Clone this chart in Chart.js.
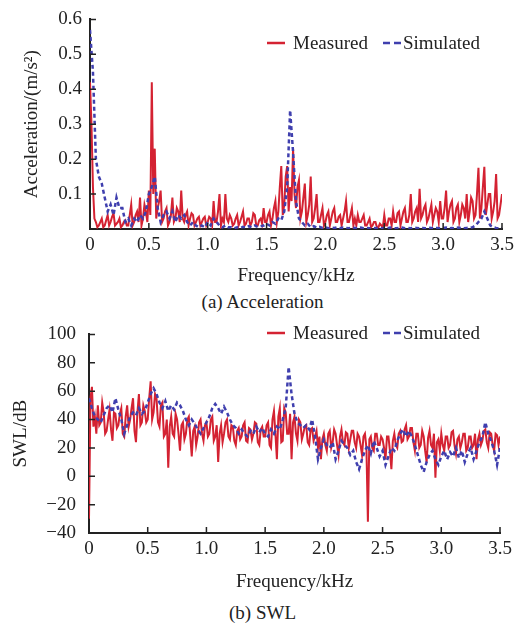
<!DOCTYPE html>
<html>
<head>
<meta charset="utf-8">
<script src="https://cdn.jsdelivr.net/npm/chart.js@4.4.1/dist/chart.umd.min.js"></script>
<style>
    body { margin: 0; background: #fff; width: 527px; height: 627px; position: relative; overflow: hidden; }
    .box { position: absolute; left: 0; }
    .caption { position: absolute; left: 0; width: 525px; text-align: center; font: 19px "Liberation Serif", "Times New Roman", serif; color: #222; }
</style>
</head>
<body>
<div class="box" style="top:0"><canvas id="accChart" width="527" height="288"></canvas></div>
<div class="caption" style="top:291px">(a) Acceleration</div>
<div class="box" style="top:310px"><canvas id="swlChart" width="527" height="284"></canvas></div>
<div class="caption" style="top:602px">(b) SWL</div>
<script>
// frequency grid of the measured spectra, kHz
var freqFine = [
    0, 0.0125, 0.025, 0.0375, 0.05, 0.0625, 0.075, 0.0875, 0.1, 0.1125, 0.125, 0.1375, 0.15, 0.1625, 0.175, 0.1875, 0.2, 0.2125, 0.225, 0.2375,
    0.25, 0.2625, 0.275, 0.2875, 0.3, 0.3125, 0.325, 0.3375, 0.35, 0.3625, 0.375, 0.3875, 0.4, 0.4125, 0.425, 0.4375, 0.45, 0.4625, 0.475, 0.4875,
    0.5, 0.5125, 0.525, 0.5375, 0.55, 0.5625, 0.575, 0.5875, 0.6, 0.6125, 0.625, 0.6375, 0.65, 0.6625, 0.675, 0.6875, 0.7, 0.7125, 0.725, 0.7375,
    0.75, 0.7625, 0.775, 0.7875, 0.8, 0.8125, 0.825, 0.8375, 0.85, 0.8625, 0.875, 0.8875, 0.9, 0.9125, 0.925, 0.9375, 0.95, 0.9625, 0.975, 0.9875,
    1.0, 1.0125, 1.025, 1.0375, 1.05, 1.0625, 1.075, 1.0875, 1.1, 1.1125, 1.125, 1.1375, 1.15, 1.1625, 1.175, 1.1875, 1.2, 1.2125, 1.225, 1.2375,
    1.25, 1.2625, 1.275, 1.2875, 1.3, 1.3125, 1.325, 1.3375, 1.35, 1.3625, 1.375, 1.3875, 1.4, 1.4125, 1.425, 1.4375, 1.45, 1.4625, 1.475, 1.4875,
    1.5, 1.5125, 1.525, 1.5375, 1.55, 1.5625, 1.575, 1.5875, 1.6, 1.6125, 1.625, 1.6375, 1.65, 1.6625, 1.675, 1.6875, 1.7, 1.7125, 1.725, 1.7375,
    1.75, 1.7625, 1.775, 1.7875, 1.8, 1.8125, 1.825, 1.8375, 1.85, 1.8625, 1.875, 1.8875, 1.9, 1.9125, 1.925, 1.9375, 1.95, 1.9625, 1.975, 1.9875,
    2.0, 2.0125, 2.025, 2.0375, 2.05, 2.0625, 2.075, 2.0875, 2.1, 2.1125, 2.125, 2.1375, 2.15, 2.1625, 2.175, 2.1875, 2.2, 2.2125, 2.225, 2.2375,
    2.25, 2.2625, 2.275, 2.2875, 2.3, 2.3125, 2.325, 2.3375, 2.35, 2.3625, 2.375, 2.3875, 2.4, 2.4125, 2.425, 2.4375, 2.45, 2.4625, 2.475, 2.4875,
    2.5, 2.5125, 2.525, 2.5375, 2.55, 2.5625, 2.575, 2.5875, 2.6, 2.6125, 2.625, 2.6375, 2.65, 2.6625, 2.675, 2.6875, 2.7, 2.7125, 2.725, 2.7375,
    2.75, 2.7625, 2.775, 2.7875, 2.8, 2.8125, 2.825, 2.8375, 2.85, 2.8625, 2.875, 2.8875, 2.9, 2.9125, 2.925, 2.9375, 2.95, 2.9625, 2.975, 2.9875,
    3.0, 3.0125, 3.025, 3.0375, 3.05, 3.0625, 3.075, 3.0875, 3.1, 3.1125, 3.125, 3.1375, 3.15, 3.1625, 3.175, 3.1875, 3.2, 3.2125, 3.225, 3.2375,
    3.25, 3.2625, 3.275, 3.2875, 3.3, 3.3125, 3.325, 3.3375, 3.35, 3.3625, 3.375, 3.3875, 3.4, 3.4125, 3.425, 3.4375, 3.45, 3.4625, 3.475, 3.4875,
    3.5
];

// frequency grid of the simulated spectra, kHz
var freqCoarse = [
    0, 0.025, 0.05, 0.075, 0.1, 0.125, 0.15, 0.175, 0.2, 0.225,
    0.25, 0.275, 0.3, 0.325, 0.35, 0.375, 0.4, 0.425, 0.45, 0.475,
    0.5, 0.525, 0.55, 0.575, 0.6, 0.625, 0.65, 0.675, 0.7, 0.725,
    0.75, 0.775, 0.8, 0.825, 0.85, 0.875, 0.9, 0.925, 0.95, 0.975,
    1.0, 1.025, 1.05, 1.075, 1.1, 1.125, 1.15, 1.175, 1.2, 1.225,
    1.25, 1.275, 1.3, 1.325, 1.35, 1.375, 1.4, 1.425, 1.45, 1.475,
    1.5, 1.525, 1.55, 1.575, 1.6, 1.625, 1.65, 1.675, 1.7, 1.725,
    1.75, 1.775, 1.8, 1.825, 1.85, 1.875, 1.9, 1.925, 1.95, 1.975,
    2.0, 2.025, 2.05, 2.075, 2.1, 2.125, 2.15, 2.175, 2.2, 2.225,
    2.25, 2.275, 2.3, 2.325, 2.35, 2.375, 2.4, 2.425, 2.45, 2.475,
    2.5, 2.525, 2.55, 2.575, 2.6, 2.625, 2.65, 2.675, 2.7, 2.725,
    2.75, 2.775, 2.8, 2.825, 2.85, 2.875, 2.9, 2.925, 2.95, 2.975,
    3.0, 3.025, 3.05, 3.075, 3.1, 3.125, 3.15, 3.175, 3.2, 3.225,
    3.25, 3.275, 3.3, 3.325, 3.35, 3.375, 3.4, 3.425, 3.45, 3.475,
    3.5
];

// (a) acceleration, m/s^2
var accMeasured = [
    0.42, 0.3, 0.12, 0.03, 0.02, 0.005, 0.01, 0.02, 0.03, 0.005, 0.01, 0.025, 0.04, 0.01, 0.02, 0.035, 0.045, 0.01, 0.015, 0.02,
    0.03, 0.005, 0.01, 0.02, 0.025, 0.01, 0.01, 0.04, 0.07, 0.01, 0.02, 0.04, 0.05, 0.02, 0.09, 0.01, 0.03, 0.07, 0.05, 0.02,
    0.11, 0.04, 0.42, 0.1, 0.23, 0.03, 0.06, 0.08, 0.11, 0.02, 0.03, 0.05, 0.06, 0.01, 0.02, 0.04, 0.09, 0.02, 0.03, 0.06,
    0.05, 0.02, 0.11, 0.03, 0.02, 0.04, 0.05, 0.01, 0.03, 0.045, 0.04, 0.01, 0.02, 0.03, 0.035, 0.01, 0.02, 0.03, 0.035, 0.01,
    0.02, 0.035, 0.03, 0.01, 0.08, 0.02, 0.02, 0.05, 0.1, 0.01, 0.03, 0.02, 0.1, 0.03, 0.02, 0.04, 0.03, 0.01, 0.015, 0.03,
    0.04, 0.01, 0.02, 0.035, 0.05, 0.01, 0.015, 0.03, 0.03, 0.01, 0.02, 0.045, 0.04, 0.01, 0.01, 0.025, 0.03, 0.015, 0.06, 0.02,
    0.02, 0.04, 0.05, 0.01, 0.03, 0.06, 0.08, 0.02, 0.05, 0.12, 0.18, 0.04, 0.07, 0.15, 0.18, 0.05, 0.12, 0.08, 0.23, 0.1,
    0.06, 0.12, 0.14, 0.03, 0.05, 0.09, 0.13, 0.02, 0.04, 0.07, 0.15, 0.02, 0.03, 0.06, 0.1, 0.02, 0.02, 0.04, 0.06, 0.01,
    0.02, 0.04, 0.05, 0.01, 0.03, 0.05, 0.06, 0.02, 0.02, 0.035, 0.04, 0.01, 0.03, 0.05, 0.08, 0.02, 0.02, 0.04, 0.06, 0.01,
    0.03, 0.01, 0.04, 0.02, 0.02, 0.03, 0.04, 0.01, 0.01, 0.02, 0.03, 0.005, 0.01, 0.02, 0.02, 0.005, 0.005, 0.015, 0.01, 0.005,
    0.04, 0.01, 0.01, 0.03, 0.03, 0.01, 0.05, 0.02, 0.02, 0.045, 0.05, 0.01, 0.03, 0.05, 0.06, 0.02, 0.02, 0.04, 0.1, 0.02,
    0.03, 0.05, 0.06, 0.02, 0.115, 0.03, 0.04, 0.06, 0.07, 0.02, 0.03, 0.05, 0.07, 0.02, 0.04, 0.06, 0.05, 0.02, 0.08, 0.03,
    0.03, 0.06, 0.11, 0.02, 0.05, 0.07, 0.08, 0.02, 0.03, 0.06, 0.07, 0.02, 0.04, 0.07, 0.06, 0.03, 0.1, 0.02, 0.05, 0.09,
    0.08, 0.03, 0.04, 0.1, 0.175, 0.03, 0.06, 0.12, 0.178, 0.04, 0.07, 0.1, 0.1, 0.03, 0.05, 0.08, 0.157, 0.03, 0.04, 0.07,
    0.1
];
var accSimulated = [
    0.57, 0.45, 0.2, 0.15, 0.13, 0.09, 0.05, 0.07, 0.04, 0.09,
    0.06, 0.06, 0.02, 0.03, 0.01, 0.03, 0.02, 0.04, 0.03, 0.05,
    0.1, 0.12, 0.15, 0.06, 0.02, 0.04, 0.05, 0.03, 0.05, 0.02,
    0.04, 0.03, 0.04, 0.02, 0.01, 0.02, 0.01, 0.005, 0.01, 0.005,
    0.02, 0.01, 0.03, 0.02, 0.01, 0.005, 0.01, 0.005, 0.005, 0.002,
    0.005, 0.003, 0.006, 0.004, 0.008, 0.005, 0.01, 0.006, 0.008, 0.01,
    0.015, 0.01, 0.02, 0.015, 0.03, 0.025, 0.05, 0.12, 0.34, 0.22,
    0.08, 0.03, 0.02, 0.01, 0.015, 0.005, 0.008, 0.004, 0.006, 0.003,
    0.005, 0.002, 0.004, 0.003, 0.005, 0.002, 0.004, 0.003, 0.002, 0.004,
    0.003, 0.002, 0.004, 0.002, 0.003, 0.002, 0.003, 0.002, 0.004, 0.002,
    0.003, 0.002, 0.004, 0.003, 0.002, 0.003, 0.004, 0.002, 0.003, 0.002,
    0.004, 0.003, 0.002, 0.003, 0.002, 0.004, 0.003, 0.002, 0.003, 0.002,
    0.003, 0.004, 0.002, 0.003, 0.002, 0.004, 0.003, 0.002, 0.003, 0.004,
    0.005, 0.01, 0.02, 0.03, 0.05, 0.03, 0.01, 0.005, 0.003, 0.002,
    0.003
];

// (b) sound power level, dB
var swlMeasured = [
    -30, 55, 63, 35, 42, 30, 50, 36, 38, 52, 45, 30, 32, 40, 47, 33, 25, 45, 44, 34,
    36, 44, 48, 30, 28, 42, 50, 35, 40, 48, 55, 32, 24, 45, 58, 36, 38, 50, 46, 38,
    40, 55, 67, 40, 45, 58, 55, 38, 35, 50, 52, 28, 30, 40, 6, 35, 42, 30, 28, 44,
    40, 30, 18, 36, 38, 26, 30, 40, 42, 28, 14, 32, 35, 22, 28, 38, 40, 30, 25, 36,
    38, 28, 30, 40, 42, 25, 28, 36, 10, 30, 36, 24, 30, 38, 40, 28, 26, 36, 35, 25,
    22, 32, 34, 26, 28, 36, 38, 25, 24, 34, 33, 26, 30, 38, 37, 24, 22, 33, 35, 28,
    28, 36, 38, 22, 20, 40, 46, 30, 12, 42, 48, 24, 25, 48, 45, 30, 30, 44, 12, 38,
    42, 30, 25, 40, 38, 26, 30, 35, 36, 24, 22, 33, 34, 25, 28, 32, 20, 28, 12, 26,
    30, 22, 18, 30, 32, 20, 24, 33, 30, 22, 15, 28, 33, 24, 22, 31, 30, 20, 26, 32,
    32, 24, 20, 30, 28, 22, 15, 28, 30, 20, -32, 26, 28, 20, 18, 30, 30, 22, 22, 28,
    26, 20, 12, 28, 28, 18, 5, 25, 30, 22, 20, 30, 32, 24, 25, 33, 36, 26, 28, 34,
    34, 24, 18, 30, 30, 20, 22, 32, 28, 18, 10, 27, 32, 22, 20, 30, -1, 24, 26, 18,
    30, 22, 18, 28, 28, 20, 22, 31, 32, 22, 16, 26, 28, 20, 24, 30, 30, 18, 20, 28,
    28, 20, 22, 30, 12, 26, 30, 22, 25, 32, 33, 24, 20, 31, 30, 22, 18, 30, 29, 22,
    28
];
var swlSimulated = [
    55, 48, 42, 40, 38, 43, 48, 50, 45, 55,
    47, 40, 30, 36, 42, 45, 43, 48, 44, 46,
    52, 58, 62, 58, 52, 48, 53, 46, 50, 47,
    52, 50, 46, 40, 36, 40, 37, 33, 30, 34,
    38, 42, 48, 51, 48, 44, 49, 45, 40, 36,
    34, 30, 33, 30, 28, 32, 30, 35, 31, 34,
    30, 28, 33, 30, 35, 33, 40, 48, 77, 58,
    44, 38, 36, 34, 36, 33, 40, 28, 12, 20,
    26, 22, 20, 24, 12, 18, 25, 22, 20, 15,
    18, 10, 5, 12, 18, 22, 16, 25, 20, 14,
    18, 8, 14, 20, 18, 25, 30, 33, 28, 32,
    28, 22, 15, 8, 3, 10, 15, 18, 12, 8,
    14, 18, 12, 17, 14, 20, 13, 18, 10, 16,
    20, 12, 18, 24, 28, 38, 30, 25, 18, 8,
    20
];

var redColor = '#d42232';
var blueColor = '#3f3fae';
var inkColor = '#222';

Chart.defaults.font.family = '"Liberation Serif", "Times New Roman", serif';
Chart.defaults.font.size = 19;
Chart.defaults.color = inkColor;

function toPoints(freqs, values) {
    return freqs.map(function (f, i) { return { x: f, y: values[i] }; });
}

// small tick marks pointing into the plot
var innerTicks = {
    id: 'innerTicks',
    afterDatasetsDraw: function (chart) {
        var ctx = chart.ctx, xs = chart.scales.x, ys = chart.scales.y, len = 6;
        ctx.save();
        ctx.strokeStyle = inkColor;
        ctx.lineWidth = 1.5;
        ctx.beginPath();
        xs.ticks.forEach(function (t) {
            var px = xs.getPixelForValue(t.value);
            ctx.moveTo(px, xs.top);
            ctx.lineTo(px, xs.top - len);
        });
        ys.ticks.forEach(function (t) {
            var py = ys.getPixelForValue(t.value);
            ctx.moveTo(ys.right, py);
            ctx.lineTo(ys.right + len, py);
        });
        ctx.stroke();
        ctx.restore();
    }
};

// legend drawn inside the plot, top right
var innerLegend = {
    id: 'innerLegend',
    afterDraw: function (chart, args, opts) {
        var ctx = chart.ctx, sets = chart.data.datasets;
        ctx.save();
        ctx.font = '19px "Liberation Serif", "Times New Roman", serif';
        ctx.textBaseline = 'middle';
        ctx.fillStyle = inkColor;

        ctx.strokeStyle = sets[0].borderColor;
        ctx.lineWidth = 2.5;
        ctx.beginPath();
        ctx.moveTo(opts.x, opts.y);
        ctx.lineTo(opts.x + 18, opts.y);
        ctx.stroke();
        ctx.fillText(sets[0].label, opts.x + 26, opts.y + 1);

        ctx.strokeStyle = sets[1].borderColor;
        ctx.setLineDash([7, 4]);
        ctx.beginPath();
        ctx.moveTo(opts.x + 116, opts.y);
        ctx.lineTo(opts.x + 134, opts.y);
        ctx.stroke();
        ctx.fillText(sets[1].label, opts.x + 136, opts.y + 1);
        ctx.restore();
    }
};

function makeChart(canvasId, measured, simulated, yOpts) {
    return new Chart(document.getElementById(canvasId), {
        type: 'line',
        data: {
            datasets: [
                {
                    label: 'Measured',
                    data: toPoints(freqFine, measured),
                    borderColor: redColor,
                    borderWidth: 2,
                    pointRadius: 0,
                    tension: 0,
                    order: 2
                },
                {
                    label: 'Simulated',
                    data: toPoints(freqCoarse, simulated),
                    borderColor: blueColor,
                    borderWidth: 2.5,
                    borderDash: [4, 3],
                    pointRadius: 0,
                    tension: 0,
                    order: 1
                }
            ]
        },
        options: {
            responsive: false,
            animation: false,
            layout: { padding: { top: yOpts.padTop, right: yOpts.padRight, left: 0, bottom: 0 } },
            plugins: {
                legend: { display: false },
                tooltip: { enabled: false },
                innerLegend: { x: 267, y: yOpts.legendY }
            },
            scales: {
                x: {
                    type: 'linear',
                    min: 0,
                    max: 3.5,
                    border: { display: true, color: inkColor, width: 2 },
                    grid: { drawOnChartArea: false, drawTicks: false },
                    ticks: {
                        stepSize: 0.5,
                        padding: 5,
                        maxRotation: 0,
                        callback: function (v) { return v === 0 ? '0' : v.toFixed(1); }
                    },
                    title: { display: true, text: 'Frequency/kHz', padding: { top: 0, bottom: 1 } },
                    afterFit: function (scale) { scale.height = yOpts.xHeight; }
                },
                y: {
                    min: yOpts.min,
                    max: yOpts.max,
                    border: { display: true, color: inkColor, width: 2 },
                    grid: { drawOnChartArea: false, drawTicks: false },
                    ticks: {
                        stepSize: yOpts.step,
                        padding: yOpts.tickPad,
                        callback: yOpts.format
                    },
                    title: { display: true, text: yOpts.title, padding: { top: yOpts.titlePad, bottom: 0 } },
                    afterFit: function (scale) { scale.width = yOpts.width; }
                }
            }
        },
        plugins: [innerTicks, innerLegend]
    });
}

var accChart = makeChart('accChart', accMeasured, accSimulated, {
    min: 0, max: 0.6, step: 0.1,
    title: 'Acceleration/(m/s\u00b2)',
    format: function (v) { return v === 0 ? '' : v.toFixed(1); },
    padTop: 16, padRight: 25, width: 90, xHeight: 59, tickPad: 8, titlePad: 21, legendY: 43
});

var swlChart = makeChart('swlChart', swlMeasured, swlSimulated, {
    min: -40, max: 100, step: 20,
    title: 'SWL/dB',
    format: function (v) { return v < 0 ? '\u2212' + Math.abs(v) : String(v); },
    padTop: 13, padRight: 27, width: 89, xHeight: 61, tickPad: 13, titlePad: 10, legendY: 23
});
</script>
</body>
</html>
